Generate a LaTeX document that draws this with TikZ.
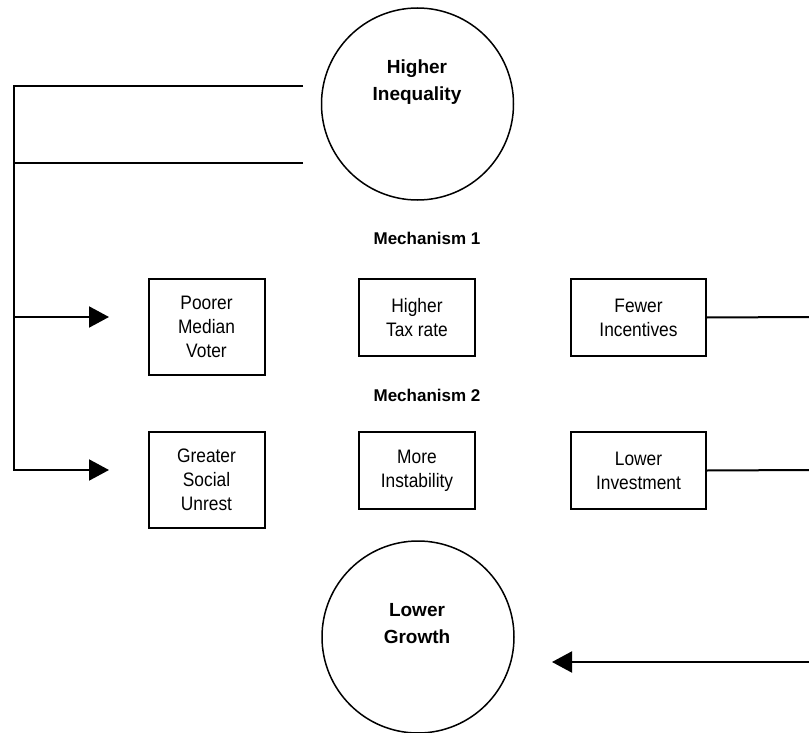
\documentclass[tikz,border=0pt]{standalone}
\usepackage{fontspec}
\setmainfont{Liberation Sans}
\newfontfamily\narrowsans{Liberation Sans}[FakeStretch=0.89]
\usetikzlibrary{arrows.meta}
\begin{document}
\begin{tikzpicture}[x=1pt, y=-1pt,
  bubble/.style={circle, draw, line width=1.5pt, minimum size=192pt, inner sep=0pt},
  bubtxt/.style={align=center, font=\bfseries\fontsize{19}{27}\selectfont},
  mech/.style={font=\bfseries\fontsize{17}{20}\selectfont},
  box/.style={draw, line width=2pt, anchor=north, minimum width=116pt, minimum height=77pt, align=center, font=\narrowsans\fontsize{19.5}{24}\selectfont},
  link/.style={line width=2pt},
  arr/.style={line width=2pt, -{Triangle[length=20pt,width=21pt]}}]
\useasboundingbox (0,0) rectangle (809,733);
\node[bubble] (ineq) at (417.5,104) {};
\node[bubtxt] (ineqtxt) at (417,82) {Higher\\Inequality};
\node[mech] (mech1) at (427,238) {Mechanism 1};
\node[box, minimum height=96pt] (voter) at (206.5,278) {Poorer\\Median\\Voter};
\node[box] (tax) at (417,278) {Higher\\Tax rate};
\node[box, minimum width=135pt] (incent) at (638.5,278) {Fewer\\Incentives};
\node[mech] (mech2) at (427,395) {Mechanism 2};
\node[box, minimum height=96pt] (unrest) at (206.5,431) {Greater\\Social\\Unrest};
\node[box] (instab) at (417,431) {More\\Instability};
\node[box, minimum width=135pt] (invest) at (638.5,431) {Lower\\Investment};
\node[bubble] (growth) at (418,637) {};
\node[bubtxt] (growthtxt) at (417,623.5) {Lower\\Growth};
\coordinate (inA) at (303,86);
\coordinate (inB) at (303,163);
\coordinate (spineT) at (14,86);
\coordinate (spineB) at (14,470);
\coordinate (tip1) at (109,317);
\coordinate (tip2) at (109,470);
\coordinate (out1) at (809,317);
\coordinate (out2) at (809,470);
\coordinate (out3) at (809,662);
\coordinate (tip3) at (552,662);
\draw[arr] (inA) -- (spineT) -- (spineB) -- (tip2);
\draw[link] (inB) -- (inB -| spineT);
\draw[arr] (spineT |- tip1) -- (tip1);
\draw[link] (incent.east) -- (out1);
\draw[link] (invest.east) -- (out2);
\draw[arr] (out3) -- (tip3);
\end{tikzpicture}
\end{document}
